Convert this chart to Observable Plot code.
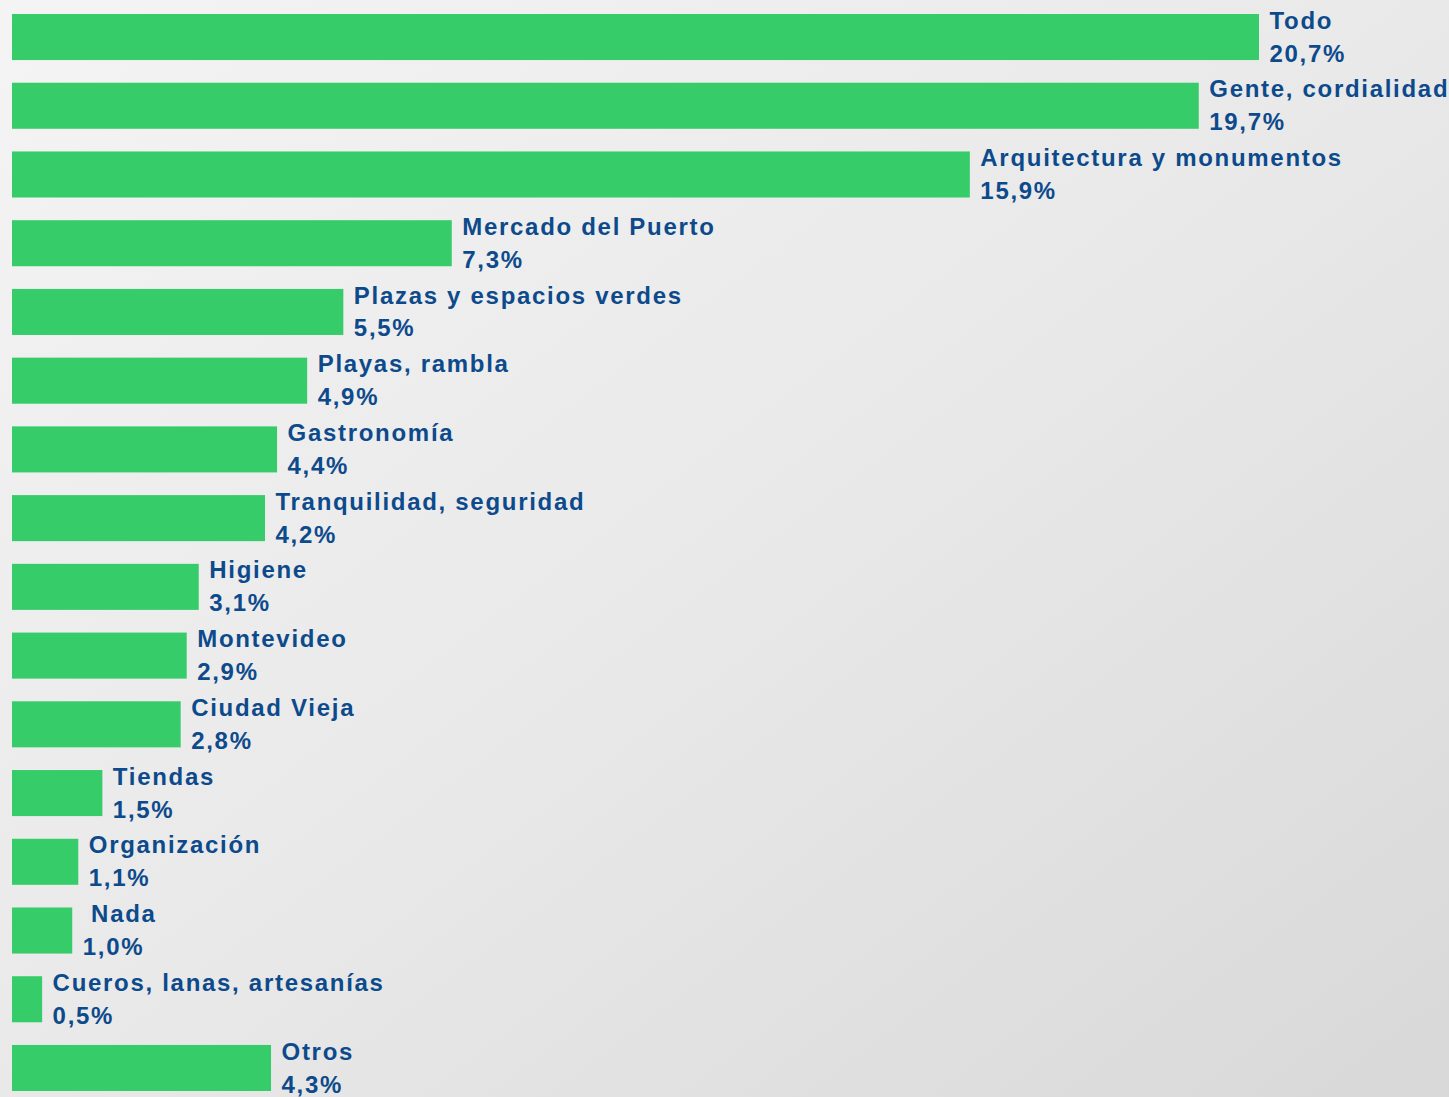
<!DOCTYPE html>
<html>
<head>
<meta charset="utf-8">
<script src="https://cdn.jsdelivr.net/npm/d3@7"></script>
<script src="https://cdn.jsdelivr.net/npm/@observablehq/plot@0.6"></script>
<style>
  html, body { margin: 0; padding: 0; background: #e8e8e8; }
  #chart svg text { letter-spacing: 1.7px; }
</style>
</head>
<body>
<div id="chart"></div>
<script>
const categories = [
  "Todo", "Gente, cordialidad", "Arquitectura y monumentos", "Mercado del Puerto",
  "Plazas y espacios verdes", "Playas, rambla", "Gastronomía", "Tranquilidad, seguridad",
  "Higiene", "Montevideo", "Ciudad Vieja", "Tiendas", "Organización", "\u00a0Nada",
  "Cueros, lanas, artesanías", "Otros"
];
const values = [20.7, 19.7, 15.9, 7.3, 5.5, 4.9, 4.4, 4.2, 3.1, 2.9, 2.8, 1.5, 1.1, 1.0, 0.5, 4.3];
const valueLabels = ["20,7%", "19,7%", "15,9%", "7,3%", "5,5%", "4,9%", "4,4%", "4,2%", "3,1%", "2,9%", "2,8%", "1,5%", "1,1%", "1,0%", "0,5%", "4,3%"];

const data = categories.map((c, i) => ({category: c, value: values[i], label: c + "\n" + valueLabels[i]}));

const chart = Plot.plot({
  width: 1449,
  height: 1097,
  marginLeft: 12,
  marginRight: 190,
  marginTop: 14,
  marginBottom: 6,
  style: {
    background: "linear-gradient(to bottom right, #f4f4f4 0%, #e9e9e9 50%, #d8d8d8 100%)",
    fontFamily: "'Liberation Sans', Arial, sans-serif",
    overflow: "visible"
  },
  x: {domain: [0, d3.max(values)], axis: null},
  y: {domain: categories, axis: null, paddingInner: 0.33, paddingOuter: 0, round: false},
  marks: [
    Plot.barX(data, {x: "value", y: "category", fill: "#36cc6a"}),
    Plot.text(data, {
      x: "value", y: "category", text: "label",
      textAnchor: "start", lineAnchor: "middle", lineHeight: 1.375,
      dx: 10, dy: -3,
      fontSize: 24, fontWeight: "bold", fill: "#0d4a8c"
    })
  ]
});
document.getElementById("chart").appendChild(chart);
</script>
</body>
</html>
